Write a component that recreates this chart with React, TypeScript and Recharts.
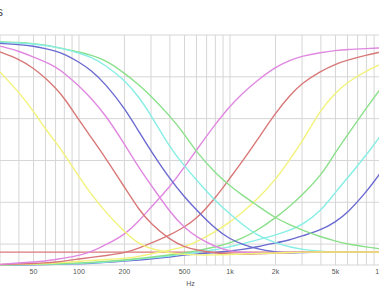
import { LineChart, Line, XAxis, YAxis, CartesianGrid, ReferenceLine } from 'recharts'

const freqs = [30, 40, 50, 60, 70, 80, 100, 120, 150, 200, 250, 300, 400, 500, 600, 800, 1000, 1200, 1500, 2000, 2500, 3000, 4000, 5000, 6000, 8000, 10000]

// low-pass curves
const lpYellow = [0.923, 0.827, 0.736, 0.65, 0.588, 0.531, 0.421, 0.34, 0.253, 0.158, 0.1, 0.077, 0.057, 0.05, 0.048, 0.048, 0.05, 0.053, 0.055, 0.057, 0.06, 0.062, 0.062, 0.062, 0.062, 0.062, 0.062]
const lpRed = [1.019, 0.985, 0.942, 0.894, 0.846, 0.799, 0.693, 0.612, 0.512, 0.373, 0.263, 0.196, 0.12, 0.086, 0.072, 0.057, 0.053, 0.05, 0.053, 0.057, 0.06, 0.062, 0.062, 0.062, 0.062, 0.062, 0.062]
const lpPink = [1.047, 1.023, 0.995, 0.971, 0.947, 0.918, 0.856, 0.799, 0.717, 0.579, 0.464, 0.383, 0.253, 0.177, 0.134, 0.086, 0.067, 0.06, 0.057, 0.06, 0.06, 0.062, 0.062, 0.062, 0.062, 0.062, 0.062]
const lpBlue = [1.06, 1.054, 1.047, 1.035, 1.023, 1.009, 0.971, 0.932, 0.866, 0.751, 0.636, 0.545, 0.411, 0.325, 0.263, 0.172, 0.124, 0.1, 0.077, 0.062, 0.057, 0.06, 0.062, 0.062, 0.062, 0.062, 0.062]
const lpCyan = [1.065, 1.062, 1.057, 1.05, 1.042, 1.033, 1.014, 0.995, 0.956, 0.885, 0.803, 0.717, 0.56, 0.473, 0.406, 0.306, 0.244, 0.196, 0.143, 0.105, 0.086, 0.074, 0.065, 0.062, 0.062, 0.062, 0.062]
const lpGreen = [1.068, 1.064, 1.059, 1.052, 1.042, 1.033, 1.019, 1.004, 0.98, 0.918, 0.861, 0.808, 0.713, 0.626, 0.54, 0.44, 0.378, 0.335, 0.287, 0.225, 0.191, 0.167, 0.134, 0.115, 0.1, 0.086, 0.077]

// high-pass curves
const hpPink = [0.003, 0.01, 0.014, 0.019, 0.026, 0.033, 0.045, 0.062, 0.096, 0.143, 0.21, 0.277, 0.373, 0.469, 0.55, 0.674, 0.76, 0.818, 0.88, 0.947, 0.98, 0.999, 1.016, 1.026, 1.031, 1.035, 1.038]
const hpRed = [0.002, 0.005, 0.007, 0.01, 0.014, 0.019, 0.029, 0.036, 0.045, 0.057, 0.081, 0.105, 0.143, 0.182, 0.22, 0.32, 0.416, 0.493, 0.593, 0.727, 0.813, 0.87, 0.928, 0.961, 0.98, 1.004, 1.019]
const hpYellow = [0.002, 0.003, 0.005, 0.007, 0.01, 0.012, 0.017, 0.022, 0.026, 0.031, 0.041, 0.053, 0.072, 0.086, 0.11, 0.158, 0.206, 0.249, 0.311, 0.406, 0.507, 0.588, 0.746, 0.823, 0.875, 0.928, 0.961]
const hpGreen = [0.001, 0.002, 0.003, 0.005, 0.006, 0.007, 0.01, 0.012, 0.017, 0.024, 0.031, 0.038, 0.048, 0.057, 0.067, 0.086, 0.105, 0.127, 0.163, 0.225, 0.282, 0.335, 0.426, 0.54, 0.622, 0.751, 0.846]
const hpCyan = [0, 0.001, 0.002, 0.003, 0.004, 0.005, 0.007, 0.01, 0.014, 0.022, 0.029, 0.033, 0.043, 0.053, 0.06, 0.072, 0.088, 0.1, 0.12, 0.143, 0.167, 0.191, 0.258, 0.349, 0.416, 0.526, 0.622]
const hpBlue = [0, 0, 0.001, 0.002, 0.003, 0.004, 0.006, 0.008, 0.012, 0.019, 0.024, 0.029, 0.038, 0.048, 0.053, 0.06, 0.067, 0.074, 0.086, 0.105, 0.12, 0.139, 0.167, 0.206, 0.249, 0.349, 0.445]

const floorLevel = 0.062

const xTicks = [30, 40, 50, 60, 70, 80, 90, 100, 200, 300, 400, 500, 600, 700, 800, 900, 1000, 2000, 3000, 4000, 5000, 6000, 7000, 8000, 9000, 10000]
const xLabels: Record<number, string> = { 50: '50', 100: '100', 200: '200', 500: '500', 1000: '1k', 2000: '2k', 5000: '5k', 10000: '10k' }
const yTicks = [0, 0.1, 0.2, 0.3, 0.4, 0.5, 0.6, 0.7, 0.8, 0.9, 1.0, 1.1]

const data = freqs.map((f, i) => ({
  f,
  lpYellow: lpYellow[i], lpRed: lpRed[i], lpPink: lpPink[i], lpBlue: lpBlue[i], lpCyan: lpCyan[i], lpGreen: lpGreen[i],
  hpPink: hpPink[i], hpRed: hpRed[i], hpYellow: hpYellow[i], hpGreen: hpGreen[i], hpCyan: hpCyan[i], hpBlue: hpBlue[i],
}))

const colors = {
  yellow: '#f2f27a',
  red: '#d87878',
  pink: '#e088e0',
  blue: '#6a6ad0',
  cyan: '#86eee4',
  green: '#8ae08a',
}

const series: [string, string][] = [
  ['hpBlue', colors.blue],
  ['hpCyan', colors.cyan],
  ['hpGreen', colors.green],
  ['hpYellow', colors.yellow],
  ['hpRed', colors.red],
  ['hpPink', colors.pink],
  ['lpGreen', colors.green],
  ['lpCyan', colors.cyan],
  ['lpBlue', colors.blue],
  ['lpPink', colors.pink],
  ['lpRed', colors.red],
  ['lpYellow', colors.yellow],
]

export default function App() {
  return (
    <div style={{ position: 'absolute', left: 0, top: 0, width: 379, height: 303, overflow: 'hidden', background: '#fff', fontFamily: '"Liberation Sans", Arial, sans-serif' }}>
      <div style={{ position: 'absolute', left: -3, top: 5, fontSize: 12, color: '#444' }}>s</div>
      <LineChart width={381} height={303} data={data} margin={{ top: 35, right: 0, bottom: 14, left: 0 }}>
        <CartesianGrid stroke="#d6d6d6" strokeWidth={1} />
        <XAxis
          dataKey="f"
          type="number"
          scale="log"
          domain={[30, 10000]}
          ticks={xTicks}
          interval={0}
          tickFormatter={(v: number) => xLabels[v] ?? ''}
          tick={{ fontSize: 7, fill: '#555' }}
          tickLine={false}
          axisLine={false}
          tickSize={0}
          tickMargin={4}
          height={24}
          allowDataOverflow
          label={{ value: 'Hz', position: 'insideBottom', offset: 3.5, fontSize: 7, fill: '#555' }}
        />
        <YAxis hide type="number" domain={[0, 1.1]} ticks={yTicks} />
        <ReferenceLine y={floorLevel} stroke={colors.red} strokeWidth={1.3} />
        {series.map(([key, color]) => (
          <Line
            key={key}
            type="basis"
            dataKey={key}
            stroke={color}
            strokeWidth={1.4}
            dot={false}
            isAnimationActive={false}
          />
        ))}
      </LineChart>
    </div>
  )
}
